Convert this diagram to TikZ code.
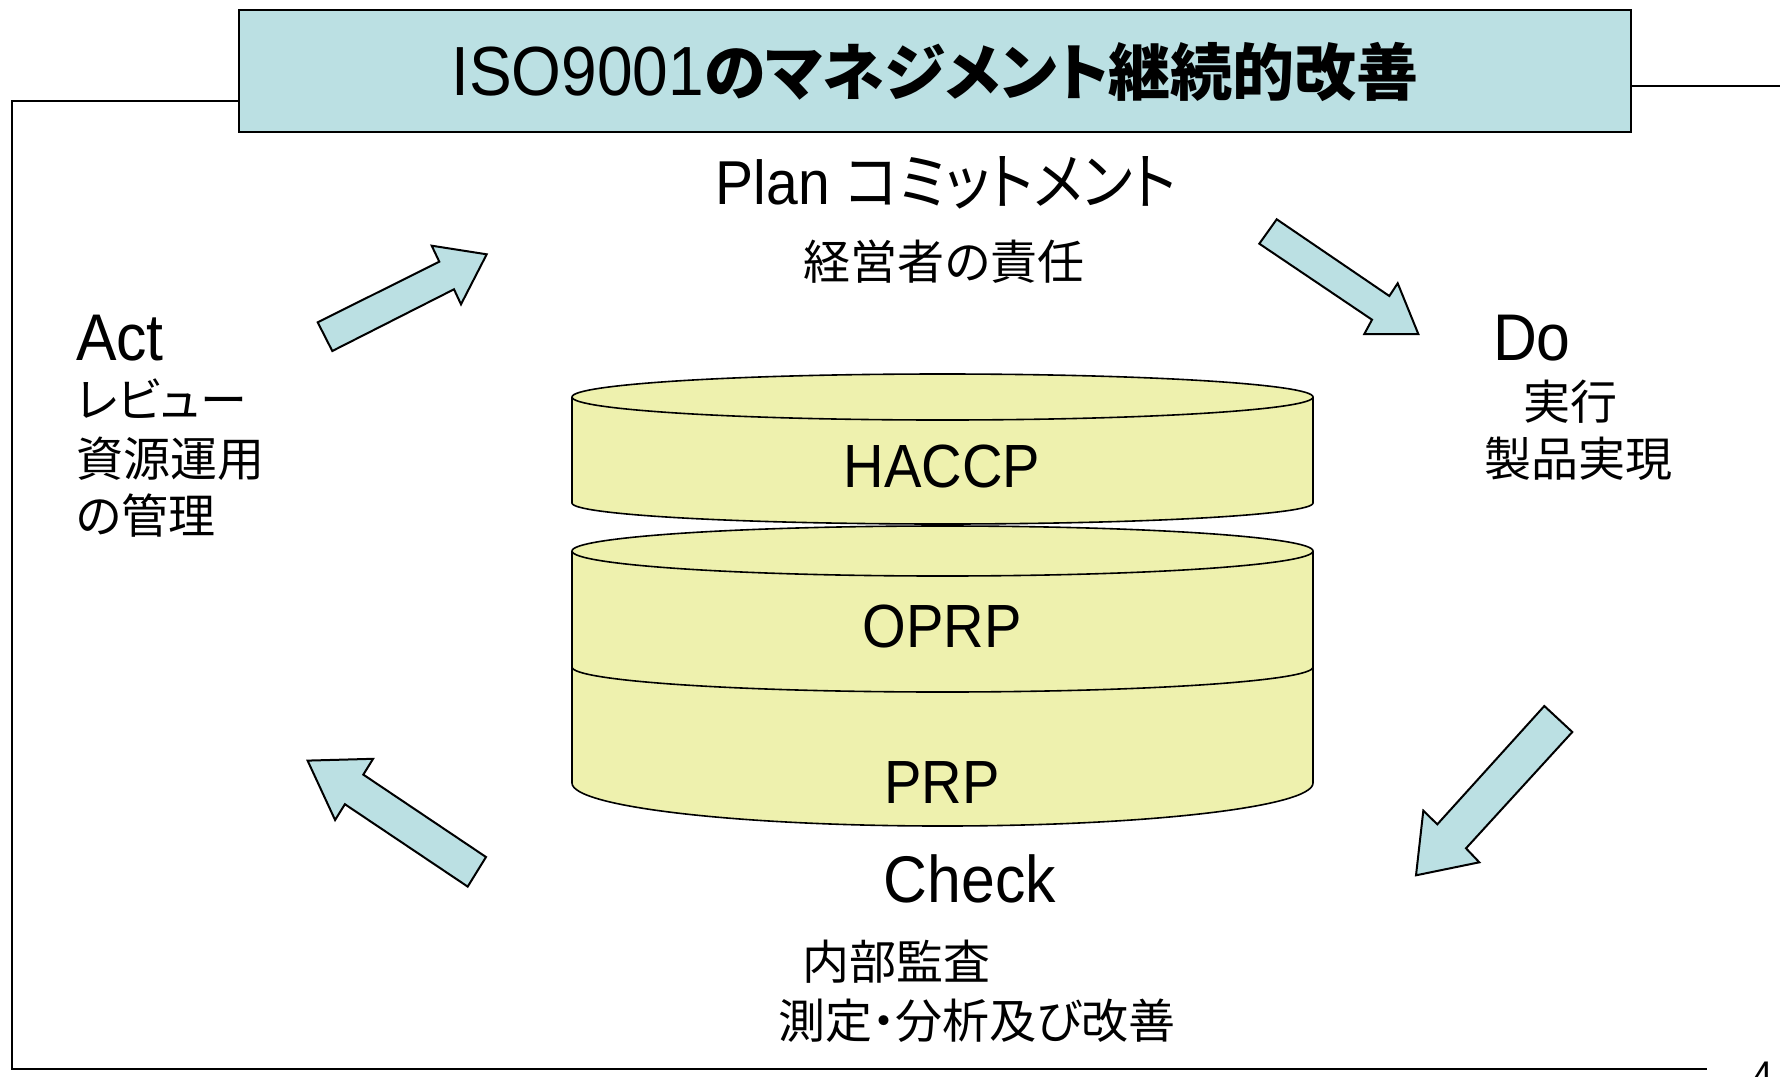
\documentclass[tikz,border=0pt]{standalone}
\usepackage{fontspec}
\setmainfont{Liberation Sans}[FakeStretch=0.92]
\newfontfamily\jp{Noto Sans CJK JP}[RawFeature=+palt]
\newfontfamily\jpn{Noto Sans CJK JP}[RawFeature=+palt, FakeStretch=0.91]
\definecolor{titleblue}{RGB}{187,224,227}
\definecolor{cylyellow}{RGB}{238,241,174}
\tikzset{
  frameline/.style={draw=black, line width=1pt},
  titlebox/.style={draw=black, line width=1.4pt, fill=titleblue},
  bluearrow/.style={draw=black, line width=1pt, fill=titleblue, line join=miter},
  cyl/.style={draw=black, line width=0.8pt, fill=cylyellow},
  big/.style={font=\fontsize{33pt}{38pt}\selectfont},
  small/.style={font=\jp\fontsize{23.5pt}{28pt}\selectfont},
  layer/.style={font=\fontsize{30.5pt}{35pt}\selectfont, anchor=base},
}
\begin{document}
\begin{tikzpicture}[x=0.5pt,y=-0.5pt]
    \useasboundingbox (0,0) rectangle (1780,1076);
    \clip (0,0) rectangle (1780,1076);
    % frame and title
    \draw[frameline] (239,101) -- (12,101) -- (12,1069) -- (1707,1069);
    \draw[frameline] (1631,86) -- (1780,86);
    \draw[titlebox] (239,10) rectangle (1631,132);
    \node[anchor=base, font=\fontsize{34.8pt}{40pt}\selectfont] (title) at (935,95)
        {ISO9001{\jp\bfseries\fontsize{31pt}{36pt}\selectfont のマネジメント継続的改善}};
    % cylinders
    \draw[cyl] (572,551) -- (572,783) arc[start angle=180, end angle=0, x radius=370.5, y radius=43]
        -- (1313,551) arc[start angle=0, end angle=-180, x radius=370.5, y radius=25] -- cycle;
    \draw[cyl, fill=none] (572,551) arc[start angle=180, end angle=0, x radius=370.5, y radius=25];
    \draw[cyl, fill=none] (572,667) arc[start angle=180, end angle=0, x radius=370.5, y radius=25];
    \draw[cyl] (572,397) -- (572,503) arc[start angle=180, end angle=0, x radius=370.5, y radius=21]
        -- (1313,397) arc[start angle=0, end angle=-180, x radius=370.5, y radius=23] -- cycle;
    \draw[cyl, fill=none] (572,397) arc[start angle=180, end angle=0, x radius=370.5, y radius=23];
    \node[layer] (haccp) at (942,487) {HACCP};
    \node[layer] (oprp) at (942,647) {OPRP};
    \node[layer] (prp) at (942,803) {PRP};
    % arrows
    \draw[bluearrow] (317.7,322.3) -- (439.3,261.7) -- (431.7,245.7) -- (486.7,254.3)
        -- (461,304.3) -- (454,289.3) -- (332.3,351) -- cycle;
    \draw[bluearrow] (1276.7,219.3) -- (1389.3,296) -- (1397.7,283.3) -- (1418.3,334)
        -- (1364.3,334) -- (1372,319.7) -- (1259.3,243.7) -- cycle;
    \draw[bluearrow] (1544.3,706) -- (1572.3,732) -- (1466,848.3) -- (1479.3,862.3)
        -- (1416,875.3) -- (1423.3,810.7) -- (1437.3,824.3) -- cycle;
    \draw[bluearrow] (486,857) -- (363.3,774.6) -- (373.1,758.8) -- (307.6,760.6)
        -- (335.1,820) -- (344.9,804.2) -- (467.7,886.6) -- cycle;
    % plan
    \node[anchor=base, font=\fontsize{31pt}{36pt}\selectfont] (plan) at (946,204) {Plan {\jpn コミットメント}};
    \node[small, anchor=base] (plansub) at (944,279) {経営者の責任};
    % do
    \node[big, anchor=base west] (do) at (1486,360) {Do};
    \node[small, anchor=base] (dosub1) at (1570,419) {実行};
    \node[small, anchor=base] (dosub2) at (1578,476) {製品実現};
    % check
    \node[big, anchor=base] (check) at (970,902) {Check};
    \node[small, anchor=base west] (checksub1) at (795,979) {内部監査};
    \node[small, anchor=base west] (checksub2) at (771,1038) {測定・分析及び改善};
    % act
    \node[big, anchor=base west] (act) at (69,360) {Act};
    \node[small, anchor=base west] (actsub1) at (69,417) {レビュー};
    \node[small, anchor=base west] (actsub2) at (69,476) {資源運用};
    \node[small, anchor=base west] (actsub3) at (69,533) {の管理};
    % page number
    \node[anchor=base west, font=\fontsize{20pt}{24pt}\selectfont] (page) at (1745,1089) {4};
\end{tikzpicture}
\end{document}
